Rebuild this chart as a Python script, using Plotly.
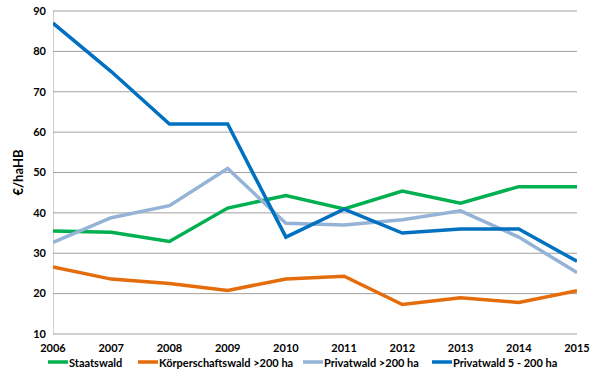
import plotly.graph_objects as go

years = [2006, 2007, 2008, 2009, 2010, 2011, 2012, 2013, 2014, 2015]
staatswald = [35.5, 35.2, 32.9, 41.2, 44.3, 41.0, 45.4, 42.4, 46.5, 46.5]
koerperschaftswald = [26.6, 23.6, 22.5, 20.8, 23.6, 24.3, 17.3, 19.0, 17.8, 20.7]
privat_gross = [32.7, 38.8, 41.8, 51.0, 37.4, 37.0, 38.3, 40.5, 34.0, 25.2]
privat_klein = [87.0, 75.0, 62.0, 62.0, 34.0, 40.9, 35.0, 36.0, 36.0, 28.0]
y_ticks = [10, 20, 30, 40, 50, 60, 70, 80, 90]

series = [
    ("Staatswald", staatswald, "#00B050"),
    ("Körperschaftswald >200 ha", koerperschaftswald, "#E46C0A"),
    ("Privatwald >200 ha", privat_gross, "#95B3D7"),
    ("Privatwald 5 - 200 ha", privat_klein, "#0070C0"),
]

W, H = 600, 385
L, R, T, B = 53, 23, 10, 50
pw, ph = W - L - R, H - T - B
pad = 80 / 323.0  # one pixel of padding (in data units)

def px_x(px):
    return (px - L) / pw

def px_y(py):
    return (H - B - py) / ph

fig = go.Figure()
for name, vals, col in series:
    fig.add_trace(go.Scatter(x=years, y=vals, mode="lines", name=name,
                             line=dict(color=col, width=3.5), showlegend=False))

font_family = "Lato, Open Sans, sans-serif"
grid_col = "#A0A0A0"

shapes = []
# horizontal gridlines at each value tick (via the y axis scale)
for v in y_ticks:
    shapes.append(dict(type="line", xref="paper", yref="y", x0=0, x1=1, y0=v, y1=v,
                       line=dict(color=grid_col, width=1), layer="below"))
# vertical value-axis line at the left edge
shapes.append(dict(type="line", xref="x", yref="y", x0=years[0], x1=years[0],
                   y0=y_ticks[0], y1=y_ticks[-1], line=dict(color=grid_col, width=1), layer="below"))

# custom legend (line sample + label) placed below the plot
legend_pos = [48, 138, 303, 432]
legend_y = 362
annotations = []
for (name, vals, col), lx in zip(series, legend_pos):
    shapes.append(dict(type="line", xref="paper", yref="paper",
                       x0=px_x(lx), x1=px_x(lx + 20), y0=px_y(legend_y), y1=px_y(legend_y),
                       line=dict(color=col, width=3.5)))
    annotations.append(dict(text=name, xref="paper", yref="paper",
                            x=px_x(lx + 20), y=px_y(legend_y), xanchor="left", yanchor="middle",
                            showarrow=False, xshift=-1,
                            font=dict(family=font_family, size=11, color="black", weight="bold")))

fig.update_layout(
    width=W, height=H,
    margin=dict(l=L, r=R, t=T, b=B, autoexpand=False),
    paper_bgcolor="white", plot_bgcolor="white",
    font=dict(family=font_family, size=11, color="black"),
    showlegend=False,
    shapes=shapes,
    annotations=annotations,
    xaxis=dict(range=[2006, 2015], tickmode="array", tickvals=years,
               ticktext=[str(y) for y in years], showgrid=False, zeroline=False,
               showline=False, ticks="", ticklabelstandoff=5,
               tickfont=dict(weight="bold", size=11)),
    yaxis=dict(range=[10 - pad, 90 + pad], tickvals=y_ticks,
               showgrid=False, zeroline=False, showline=False, ticks="", ticklabelstandoff=6,
               tickfont=dict(weight="bold", size=11),
               title=dict(text="€/haHB", font=dict(weight="bold", size=13), standoff=6)),
)

fig.write_html("out.html", config={"displayModeBar": False},
               post_script="document.body.style.margin='0px';document.body.style.overflow='hidden';")
